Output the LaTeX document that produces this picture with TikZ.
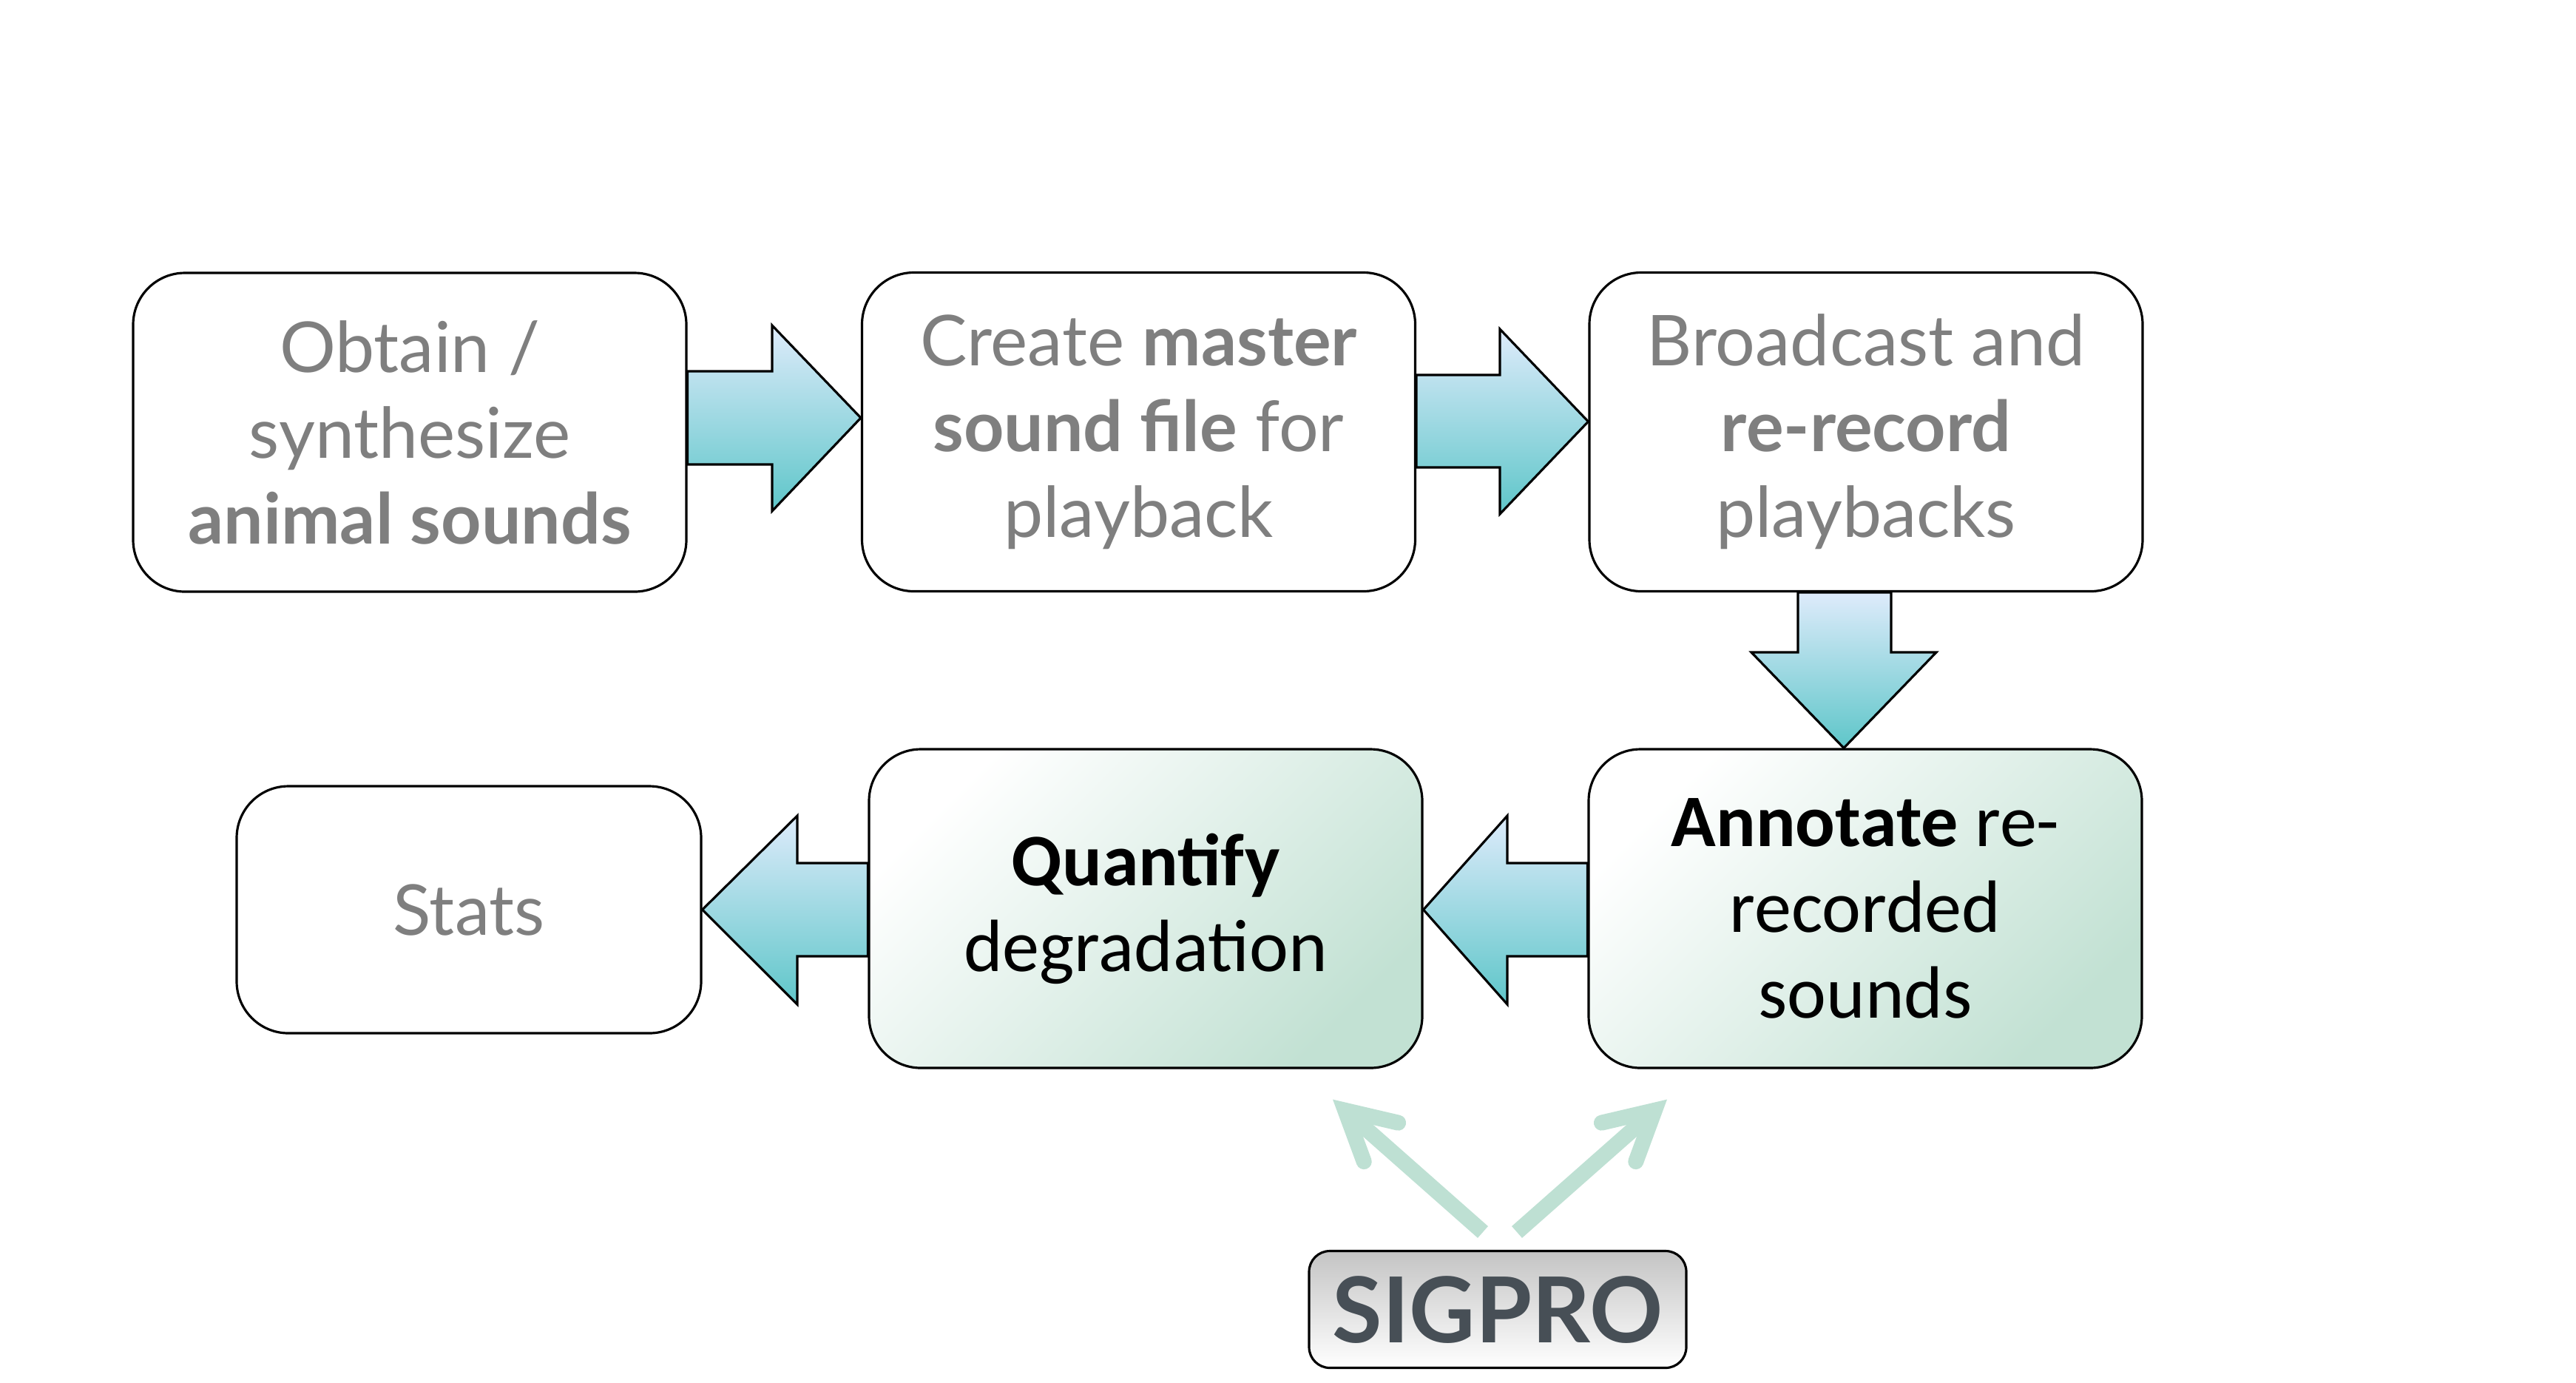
\documentclass[tikz,border=0pt]{standalone}
\usepackage{fontspec}
\setmainfont{Lato}
\newfontfamily\calfont{Carlito}
\usetikzlibrary{positioning, calc, arrows.meta}

\definecolor{arrowtop}{HTML}{DEEBFB}
\definecolor{arrowbot}{HTML}{5EC6C9}
\definecolor{mint}{HTML}{C2E1D3}
\definecolor{textgray}{HTML}{7F7F7F}
\definecolor{sigtext}{HTML}{474F56}
\definecolor{sigtop}{HTML}{C4C4C4}
\definecolor{sigline}{HTML}{BEE0D3}

\tikzset{
  stepbox/.style={draw, line width=0.9pt, rounded corners=0.7cm, align=center, minimum width=7.48cm, minimum height=4.31cm, text=textgray, font=\fontsize{27}{33}\selectfont},
  greenbox/.style={stepbox, text=black, top color=white, bottom color=mint, shading angle=45, font=\calfont\fontsize{28.5}{33}\selectfont},
  blockarrow/.style={draw, line width=0.9pt, line join=miter, top color=arrowtop, bottom color=arrowbot},
  sigarrow/.style={draw=sigline, line width=6pt, -{Straight Barb[length=6.5mm, width=7mm, line cap=round, line join=miter]}}
}

\begin{document}
\begin{tikzpicture}
      \useasboundingbox (0, 0) rectangle (34.83, -18.69);

      % boxes
      \node[stepbox] (obtain) at (5.54, -5.845) {Obtain /\\synthesize\\\textbf{animal sounds}};
      \node[stepbox] (master) at (15.395, -5.84) {Create \textbf{master}\\\textbf{sound file} for\\playback};
      \node[stepbox] (rerecord) at (25.23, -5.84) {Broadcast and\\\textbf{re-record}\\playbacks};
      \node[stepbox, minimum width=6.28cm, minimum height=3.34cm] (stats) at (6.34, -12.30) {Stats};
      \node[greenbox] (quantify) at (15.49, -12.285) {\textbf{Quantify}\\degradation};
      \node[greenbox] (annotate) at (25.22, -12.285) {\textbf{Annotate} re-\\recorded\\sounds};
      \node[draw, line width=0.9pt, rounded corners=0.28cm, minimum width=5.1cm, minimum height=1.58cm, top color=sigtop, bottom color=white, text=sigtext, font=\bfseries\fontsize{35}{40}\selectfont] (sigpro) at (20.25, -17.705) {SIGPRO};

      % block arrows
      \draw[blockarrow] (obtain.east |- 0,-5.02) -- (10.44, -5.02) -- (10.44, -4.40) -- (master.west |- 0,-5.65) -- (10.44, -6.91) -- (10.44, -6.28) -- (obtain.east |- 0,-6.28) -- cycle;
      \draw[blockarrow] (master.east |- 0,-5.07) -- (20.28, -5.07) -- (20.28, -4.45) -- (rerecord.west |- 0,-5.70) -- (20.28, -6.95) -- (20.28, -6.32) -- (master.east |- 0,-6.32) -- cycle;
      \draw[blockarrow] (rerecord.south -| 24.31,0) -- (24.31, -8.82) -- (23.68, -8.82) -- (annotate.north -| 24.93,0) -- (26.18, -8.82) -- (25.57, -8.82) -- (rerecord.south -| 25.57,0) -- cycle;
      \draw[blockarrow] (annotate.west |- 0,-11.67) -- (20.38, -11.67) -- (20.38, -11.03) -- (quantify.east |- 0,-12.30) -- (20.38, -13.58) -- (20.38, -12.93) -- (annotate.west |- 0,-12.93) -- cycle;
      \draw[blockarrow] (quantify.west |- 0,-11.67) -- (10.78, -11.67) -- (10.78, -11.03) -- (stats.east |- 0,-12.30) -- (10.78, -13.58) -- (10.78, -12.93) -- (quantify.west |- 0,-12.93) -- cycle;

      % sigpro arrows
      \draw[sigarrow] ($(sigpro.north)+(-0.2, 0.24)$) -- ($(quantify.south)+(2.53, -0.41)$);
      \draw[sigarrow] ($(sigpro.north)+(0.26, 0.24)$) -- ($(annotate.south)+(-2.68, -0.41)$);

    \end{tikzpicture}
\end{document}
